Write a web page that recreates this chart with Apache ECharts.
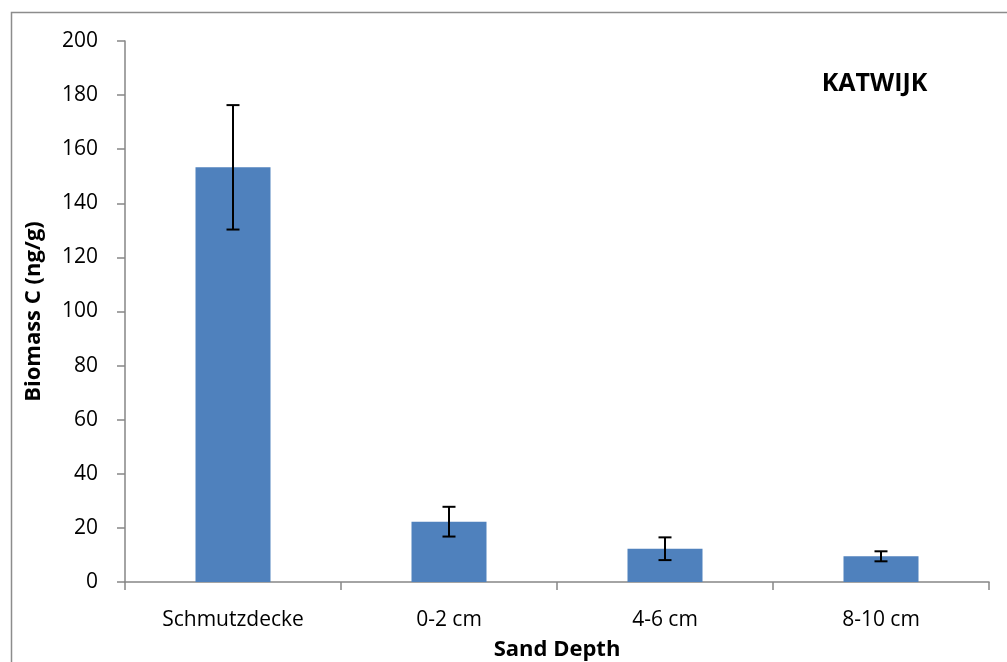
<!DOCTYPE html>
<html>
<head>
<meta charset="utf-8">
<script src="https://cdn.jsdelivr.net/npm/echarts@6/dist/echarts.min.js"></script>
<style>html,body{margin:0;padding:0;background:#fff}#c{width:1007px;height:662px}</style>
</head>
<body>
<div id="c"></div>
<script>
var categories = ['Schmutzdecke', '0-2 cm', '4-6 cm', '8-10 cm'];
var values = [153.3, 22.3, 12.3, 9.5];
var errors = [23.0, 5.5, 4.2, 1.85];
var yTicks = [0, 20, 40, 60, 80, 100, 120, 140, 160, 180, 200];

var FONT = '"Open Sans"';
var chart = echarts.init(document.getElementById('c'));
var errData = categories.map(function (c, i) { return [i, values[i] - errors[i], values[i] + errors[i]]; });

chart.setOption({
  animation: false,
  backgroundColor: '#fff',
  grid: { left: 125, right: 18, top: 41, bottom: 80, containLabel: false, outerBoundsMode: 'none' },
  graphic: [
    { type: 'polyline', shape: { points: [[11.5, 662], [11.5, 12.5], [1007, 12.5]] }, style: { stroke: '#8c8c8c', lineWidth: 1.5, fill: null } },
    { type: 'text', x: 874.5, y: 84, style: { text: 'KATWIJK', font: 'bold 25px ' + FONT, fill: '#000', align: 'center', verticalAlign: 'middle' } }
  ],
  xAxis: {
    type: 'category',
    data: categories,
    name: 'Sand Depth',
    nameLocation: 'middle',
    nameGap: 57,
    nameTextStyle: { fontFamily: FONT, fontWeight: 'bold', fontSize: 22, color: '#000' },
    axisLine: { lineStyle: { color: '#868686', width: 1.5 } },
    axisTick: { show: true, length: 8, lineStyle: { color: '#868686', width: 1.5 } },
    axisLabel: { fontFamily: FONT, fontSize: 21, color: '#000', margin: 28 },
    splitLine: { show: false }
  },
  yAxis: {
    type: 'value',
    min: yTicks[0],
    max: yTicks[yTicks.length - 1],
    interval: yTicks[1] - yTicks[0],
    name: 'Biomass C (ng/g)',
    nameLocation: 'middle',
    nameGap: 80,
    nameTextStyle: { fontFamily: FONT, fontWeight: 'bold', fontSize: 22, color: '#000' },
    axisLine: { show: true, lineStyle: { color: '#868686', width: 1.5 } },
    axisTick: { show: true, length: 8, lineStyle: { color: '#868686', width: 1.5 } },
    axisLabel: { fontFamily: FONT, fontSize: 21, color: '#000', margin: 27 },
    splitLine: { show: false }
  },
  series: [
    {
      type: 'bar',
      data: values,
      barWidth: 75,
      itemStyle: { color: '#4F81BD' }
    },
    {
      type: 'custom',
      data: errData,
      z: 10,
      renderItem: function (params, api) {
        var x = api.value(0);
        var lo = api.coord([x, api.value(1)]);
        var hi = api.coord([x, api.value(2)]);
        var hw = 6.5;
        var st = { stroke: '#000', lineWidth: 2 };
        return {
          type: 'group',
          children: [
            { type: 'line', shape: { x1: hi[0], y1: hi[1], x2: lo[0], y2: lo[1] }, style: st },
            { type: 'line', shape: { x1: hi[0] - hw, y1: hi[1], x2: hi[0] + hw, y2: hi[1] }, style: st },
            { type: 'line', shape: { x1: lo[0] - hw, y1: lo[1], x2: lo[0] + hw, y2: lo[1] }, style: st }
          ]
        };
      }
    }
  ]
});
</script>
</body>
</html>
